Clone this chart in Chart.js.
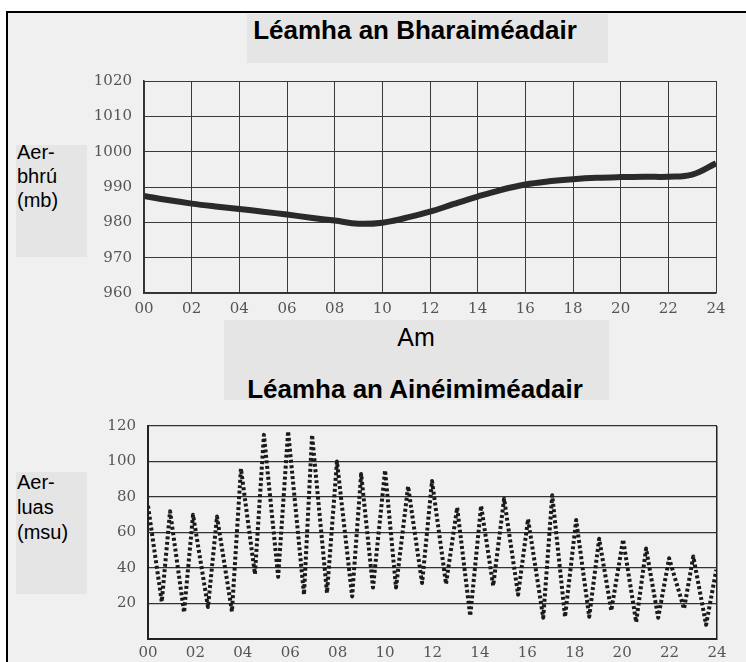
<!DOCTYPE html>
<html>
<head>
<meta charset="utf-8">
<script src="https://cdn.jsdelivr.net/npm/chart.js@4"></script>
<style>
  html, body { margin: 0; padding: 0; }
  body { width: 746px; height: 662px; position: relative; overflow: hidden; background: #fff; font-family: "Liberation Sans", Arial, sans-serif; }
  #frame { position: absolute; left: 6px; top: 11px; width: 760px; height: 700px; border-left: 2px solid #000; border-top: 2px solid #000; background: #f0f0f0; }
  .box { position: absolute; background: #e5e5e5; }
  .title { position: absolute; width: 420px; text-align: center; font-weight: bold; font-size: 26px; line-height: 30px; color: #000; }
  .lab { position: absolute; font-size: 20px; color: #000; }
  canvas { position: absolute; }
</style>
</head>
<body>
<div id="frame"></div>
<div class="box" style="left:247px;top:14px;width:361px;height:49px"></div>
<div class="box" style="left:224px;top:320px;width:385px;height:80px"></div>
<div class="box" style="left:16px;top:145px;width:71px;height:112px"></div>
<div class="box" style="left:16px;top:472px;width:71px;height:122px"></div>

<div class="title" style="left:205px;top:15px">Léamha an Bharaiméadair</div>
<div class="lab" style="left:216px;top:322px;width:400px;text-align:center;font-size:25px;line-height:30px">Am</div>
<div class="title" style="left:205px;top:374px">Léamha an Ainéimiméadair</div>
<div class="lab" style="left:17px;top:140px;line-height:24px">Aer-<br>bhrú<br>(mb)</div>
<div class="lab" style="left:17px;top:470px;line-height:25px">Aer-<br>luas<br>(msu)</div>

<canvas id="pressureChart" width="660" height="260" style="left:80px;top:60px"></canvas>
<canvas id="windChart" width="660" height="257" style="left:80px;top:405px"></canvas>

<script>
// barometer readings, one per hour
const pressureHours = [0,1,2,3,4,5,6,7,8,9,10,11,12,13,14,15,16,17,18,19,20,21,22,23,24];
const pressureValues = [987.5,986.3,985.3,984.5,983.8,983,982.2,981.3,980.5,979.6,979.9,981.3,983,985.2,987.3,989.2,990.7,991.6,992.2,992.6,992.8,992.9,992.9,993.5,996.7];

// anemometer readings, peaks and troughs of the zigzag
const windHours = [0,0.58,0.93,1.52,1.9,2.53,2.91,3.54,3.92,4.51,4.89,5.49,5.91,6.58,6.92,7.55,7.97,8.61,8.99,9.49,10,10.46,10.97,11.56,11.98,12.57,13.04,13.59,14.05,14.56,15.02,15.61,16.03,16.67,17.05,17.59,18.06,18.61,19.03,19.54,20.04,20.59,21.01,21.52,21.98,22.61,23,23.54,23.97];
const windValues = [75,21,72,15,70,18,69,15.5,96,36.5,115,35,117,25,115,26,100,24,93,29,95,29,86,31.5,89,31,74,13,75,30,79,25,67.5,12,81,12.5,67,12.5,56.5,16,56,9.5,51,12,45.5,17,46.5,8,39];

const hourTicks = v => String(v).padStart(2, '0');
const tickFont = { family: 'DejaVu Serif', size: 15 };
const tickColor = '#555';

new Chart(document.getElementById('pressureChart'), {
  type: 'scatter',
  data: {
    datasets: [{
      data: pressureHours.map((h, i) => ({ x: h, y: pressureValues[i] })),
      showLine: true,
      borderColor: '#2a2a2a',
      borderWidth: 6,
      pointRadius: 0,
      tension: 0.4,
    }]
  },
  options: {
    responsive: false,
    animation: false,
    devicePixelRatio: 1,
    layout: { padding: { top: 16, right: 24, left: 0, bottom: 0 } },
    plugins: { legend: { display: false }, tooltip: { enabled: false } },
    scales: {
      x: {
        type: 'linear', min: 0, max: 24,
        ticks: { stepSize: 2, callback: hourTicks, font: tickFont, color: tickColor, padding: 7, maxRotation: 0 },
        grid: { color: '#3a3a3a', lineWidth: 1, drawTicks: false },
        border: { color: '#333', width: 1.5 },
        afterFit: s => { s.height = 27; }
      },
      y: {
        min: 960, max: 1020,
        ticks: { stepSize: 10, font: tickFont, color: tickColor, padding: 12, callback: v => String(v) },
        grid: { color: '#3a3a3a', lineWidth: 1, drawTicks: false },
        border: { color: '#333', width: 1.5 },
        afterFit: s => { s.width = 64; }
      }
    }
  }
});

new Chart(document.getElementById('windChart'), {
  type: 'scatter',
  data: {
    datasets: [{
      data: windHours.map((h, i) => ({ x: h, y: windValues[i] })),
      showLine: true,
      borderColor: '#1a1a1a',
      borderWidth: 4,
      borderDash: [3, 2.5],
      borderJoinStyle: 'round',
      borderCapStyle: 'butt',
      pointRadius: 0,
      tension: 0,
    }]
  },
  options: {
    responsive: false,
    animation: false,
    devicePixelRatio: 1,
    layout: { padding: { top: 17, right: 23, left: 0, bottom: 0 } },
    plugins: { legend: { display: false }, tooltip: { enabled: false } },
    scales: {
      x: {
        type: 'linear', min: 0, max: 24,
        ticks: { stepSize: 2, callback: hourTicks, font: tickFont, color: tickColor, padding: 5, maxRotation: 0 },
        grid: { color: c => c.tick && c.tick.value === 24 ? '#222' : 'rgba(0,0,0,0)', lineWidth: 1.5, drawTicks: false },
        border: { color: '#222', width: 2 },
        afterFit: s => { s.height = 23; }
      },
      y: {
        min: 0, max: 120,
        ticks: { stepSize: 20, font: tickFont, color: tickColor, padding: 12, callback: v => v === 0 ? '' : String(v) },
        grid: { color: '#333', lineWidth: 1.3, drawTicks: false },
        border: { color: '#222', width: 2 },
        afterFit: s => { s.width = 68; }
      }
    }
  }
});
</script>
</body>
</html>
